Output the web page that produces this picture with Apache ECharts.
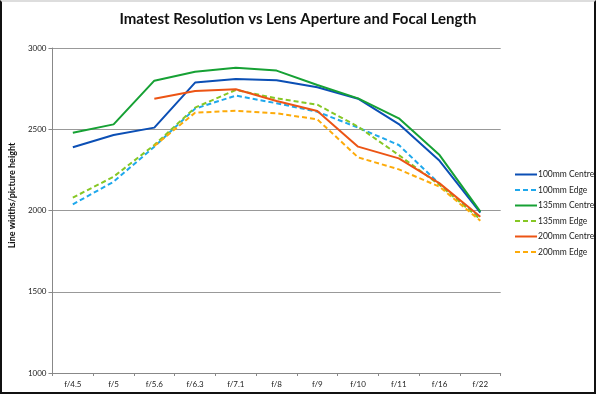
<!DOCTYPE html>
<html><head><meta charset="utf-8">
<script src="https://cdn.jsdelivr.net/npm/echarts@6/dist/echarts.min.js"></script>
<style>
html,body{margin:0;padding:0;background:#fff;}
#frame{position:absolute;left:0;top:0;width:592px;height:390px;border-left:2px solid #111;border-right:2px solid #111;border-bottom:2px solid #111;border-top:2px solid #ddd;pointer-events:none;}
#c{position:absolute;left:0;top:0;width:596px;height:394px;}
</style></head>
<body>
<div id="c"></div>
<div id="frame"></div>
<script>
const categories = ['f/4.5','f/5','f/5.6','f/6.3','f/7.1','f/8','f/9','f/10','f/11','f/16','f/22'];
const c100 = [2389, 2465, 2510, 2787, 2809, 2801, 2758, 2688, 2532, 2306, 1987];
const e100 = [2038, 2177, 2393, 2627, 2707, 2660, 2608, 2510, 2403, 2163, 1952];
const c135 = [2479, 2530, 2799, 2854, 2879, 2861, 2772, 2690, 2567, 2341, 1993];
const e135 = [2079, 2208, 2403, 2633, 2742, 2690, 2651, 2516, 2341, 2157, 1946];
const c200 = [null, null, 2688, 2735, 2746, 2674, 2612, 2393, 2321, 2167, 1962];
const e200 = [null, null, 2397, 2602, 2614, 2598, 2561, 2327, 2253, 2146, 1937];
const yTicks = [1000, 1500, 2000, 2500, 3000];

const names = ['100mm Centre','100mm Edge','135mm Centre','135mm Edge','200mm Centre','200mm Edge'];
const colors = ['#0b4fb5','#1fa8ec','#16a134','#86c724','#ec5414','#fdab0a'];
const dataSets = [c100,e100,c135,e135,c200,e200];
const dashed = [false,true,false,true,false,true];

const chart = echarts.init(document.getElementById('c'));
chart.setOption({
  animation:false,
  backgroundColor:'#fff',
  title:{text:'Imatest Resolution vs Lens Aperture and Focal Length', left:'center', top:7,
    textStyle:{fontFamily:'Lato', fontWeight:'bold', fontSize:15, color:'#111'}},
  grid:{left:47.5, right:95.3, top:48, bottom:21},
  legend:{orient:'vertical', left:509, top:165, itemWidth:22, itemHeight:8, itemGap:6.5,
    itemStyle:{opacity:0},
    textStyle:{fontFamily:'Lato', fontSize:8.5, color:'#222', padding:[0,0,0,-4]},
    data:names},
  xAxis:{type:'category', data:categories, boundaryGap:true,
    axisLine:{lineStyle:{color:'#888'}},
    axisTick:{show:true, length:3, lineStyle:{color:'#888'}},
    axisLabel:{fontFamily:'Lato', fontSize:8, color:'#222', margin:7}},
  yAxis:{type:'value', min:1000, max:3000, interval:500,
    name:'Line widths/picture height', nameLocation:'middle', nameGap:28,
    nameTextStyle:{fontFamily:'Lato', fontWeight:'bold', fontSize:9, color:'#111', padding:[0,0,0,30]},
    axisLine:{show:true, lineStyle:{color:'#888'}},
    axisTick:{show:true, length:4, lineStyle:{color:'#888'}},
    splitLine:{lineStyle:{color:'#999'}},
    axisLabel:{fontFamily:'Lato', fontSize:8, color:'#222', margin:6,
      formatter:v=>yTicks.includes(v)?String(v):''}},
  series: names.map((n,i)=>({
    name:n, type:'line', data:dataSets[i], showSymbol:false, symbol:'none',
    connectNulls:false,
    lineStyle:{color:colors[i], width:2, type: dashed[i]?[5,3]:'solid'},
    itemStyle:{color:colors[i]}
  }))
});
</script>
</body></html>
